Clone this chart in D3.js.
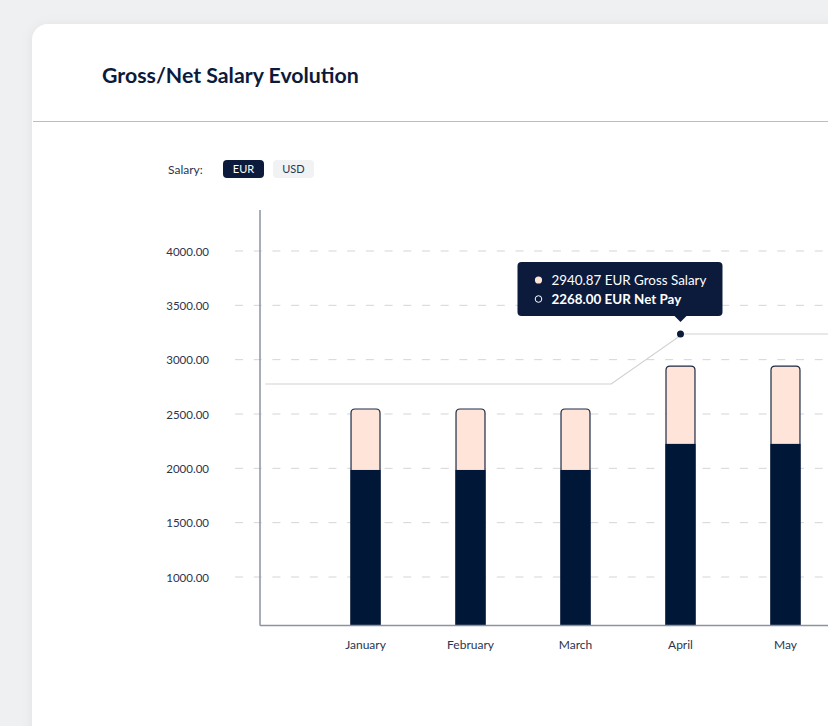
<!DOCTYPE html>
<html>
<head>
<meta charset="utf-8">
<script src="https://cdn.jsdelivr.net/npm/d3@7"></script>
<style>
  html, body { margin: 0; padding: 0; background: #eef0f2; overflow: hidden; }
  svg { display: block; font-family: Lato, "Open Sans", sans-serif; }
</style>
</head>
<body>
<svg id="chart" width="828" height="726"></svg>
<script>
// ---- data ----
const months = ["January", "February", "March", "April", "May"];
const grossValues = [2546, 2546, 2546, 2940.87, 2940.87];
const netValues = [1985, 1985, 1985, 2225, 2225];
// reference line (fractional month index, value)
const lineIndex = [-0.955, 2.34, 3.02, 4, 5.5];
const lineValues = [2776, 2776, 3236, 3236, 3236];
const yTicks = [1000, 1500, 2000, 2500, 3000, 3500, 4000];
const currencies = ["EUR", "USD"];
const tooltipMonth = "April";
const tooltipGross = 2940.87;
const tooltipNet = 2268.00;
const tooltipPointValue = 3236;

const navy = "#0c1b3b";
const peach = "#ffe4da";

const svg = d3.select("#chart");
const defs = svg.append("defs");
const f = defs.append("filter").attr("id", "shadow").attr("x", "-10%").attr("y", "-10%").attr("width", "130%").attr("height", "130%");
f.append("feDropShadow").attr("dx", 0).attr("dy", 1).attr("stdDeviation", 6).attr("flood-color", "#000").attr("flood-opacity", 0.06);

// card
svg.append("rect").attr("x", 32).attr("y", 24).attr("width", 860).attr("height", 780)
  .attr("rx", 16).attr("fill", "#fff").attr("filter", "url(#shadow)");
svg.append("line").attr("x1", 33).attr("x2", 828).attr("y1", 121.5).attr("y2", 121.5)
  .attr("stroke", "#b9bdc5").attr("stroke-width", 1.2);

svg.append("text").attr("x", 102).attr("y", 83).text("Gross/Net Salary Evolution")
  .attr("font-size", 21.3).attr("font-weight", 700).attr("fill", navy);

// currency toggle
svg.append("text").attr("x", 168).attr("y", 174).text("Salary:")
  .attr("font-size", 12).attr("fill", "#2a3550");
const btn = svg.append("g").selectAll("g").data(currencies).join("g")
  .attr("transform", (d, i) => `translate(${223 + i * 50},160)`);
btn.append("rect").attr("width", 41).attr("height", 18).attr("rx", 4)
  .attr("fill", (d, i) => i === 0 ? navy : "#f1f2f4");
btn.append("text").attr("x", 20.5).attr("y", 13).attr("text-anchor", "middle")
  .attr("font-size", 11).attr("fill", (d, i) => i === 0 ? "#fff" : "#2a3550").text(d => d);

// scales
const y = d3.scaleLinear().domain([558.3, 4377.3]).range([625, 210]);
const x = d3.scaleBand().domain(months).range([260, 891]).paddingInner(0.724).paddingOuter(0.867);
const xi = d3.scaleLinear().domain([0, 1]).range([x(months[0]) + x.bandwidth() / 2, x(months[1]) + x.bandwidth() / 2]);

// grid
const yAxis = d3.axisLeft(y).tickValues(yTicks).tickFormat(d3.format(".2f")).tickSize(0).tickPadding(0);
const gy = svg.append("g").attr("transform", "translate(209,0)").call(yAxis);
gy.select(".domain").remove();
gy.selectAll("text").attr("font-size", 11.5).attr("fill", "#2a3550").attr("font-family", "Lato, sans-serif").attr("dy", "0.35em");
svg.append("g").selectAll("line").data(yTicks).join("line")
  .attr("x1", 235).attr("x2", 828).attr("y1", d => y(d)).attr("y2", d => y(d))
  .attr("stroke", "#d2d5da").attr("stroke-width", 1).attr("stroke-dasharray", "8,10.7");

// line
const lineGen = d3.line().x(d => xi(d[0])).y(d => y(d[1]));
svg.append("path").datum(lineIndex.map((v, i) => [v, lineValues[i]]))
  .attr("d", lineGen).attr("fill", "none").attr("stroke", "#cfd1d5").attr("stroke-width", 1.2);

// bars
const bw = x.bandwidth();
const r = 4;
function topRounded(x0, y0, w, h, rr) {
  return `M${x0},${y0 + h}V${y0 + rr}Q${x0},${y0} ${x0 + rr},${y0}H${x0 + w - rr}Q${x0 + w},${y0} ${x0 + w},${y0 + rr}V${y0 + h}`;
}
const bars = svg.append("g").selectAll("g").data(months).join("g");
bars.append("path").attr("d", (d, i) => topRounded(x(d), y(grossValues[i]), bw, y.range()[0] - y(grossValues[i]), r))
  .attr("fill", peach).attr("stroke", "#1e2a44").attr("stroke-width", 1.2);
bars.append("rect").attr("x", d => x(d) - 0.6).attr("width", bw + 1.2)
  .attr("y", (d, i) => y(netValues[i])).attr("height", (d, i) => y.range()[0] - y(netValues[i]))
  .attr("fill", "#001738");

// axes lines
svg.append("line").attr("x1", 260).attr("x2", 260).attr("y1", 210).attr("y2", 625.5)
  .attr("stroke", "#8b93a1").attr("stroke-width", 1.5);
svg.append("line").attr("x1", 260).attr("x2", 828).attr("y1", 625.5).attr("y2", 625.5)
  .attr("stroke", "#8b93a1").attr("stroke-width", 1.5);

// x labels
const xAxis = d3.axisBottom(x).tickSize(0).tickPadding(0);
const gx = svg.append("g").attr("transform", "translate(0,649)").call(xAxis);
gx.select(".domain").remove();
gx.selectAll("text").attr("font-size", 12).attr("fill", "#2a3550").attr("font-family", "Lato, sans-serif").attr("dy", 0);

// tooltip
const px = x(tooltipMonth) + bw / 2, py = y(tooltipPointValue);
svg.append("circle").attr("cx", px).attr("cy", py).attr("r", 3.5).attr("fill", navy);
const tt = svg.append("g");
const tw = 205, th = 54;
const tx = px - 163, ty = py - 72;
tt.append("rect").attr("x", tx).attr("y", ty).attr("width", tw).attr("height", th).attr("rx", 4).attr("fill", navy);
tt.append("path").attr("d", `M${px - 6},${ty + th}L${px},${ty + th + 6}L${px + 6},${ty + th}Z`).attr("fill", navy);
tt.append("circle").attr("cx", tx + 21).attr("cy", ty + 18).attr("r", 3.6).attr("fill", peach);
tt.append("text").attr("x", tx + 34).attr("y", ty + 23).attr("font-size", 13.4).attr("fill", "#fff")
  .text(`${tooltipGross.toFixed(2)} EUR Gross Salary`);
tt.append("circle").attr("cx", tx + 21).attr("cy", ty + 37).attr("r", 3.3).attr("fill", "none").attr("stroke", "#fff").attr("stroke-width", 1);
tt.append("text").attr("x", tx + 34).attr("y", ty + 42).attr("font-size", 13.4).attr("font-weight", 700).attr("fill", "#fff")
  .text(`${tooltipNet.toFixed(2)} EUR Net Pay`);
</script>
</body>
</html>
